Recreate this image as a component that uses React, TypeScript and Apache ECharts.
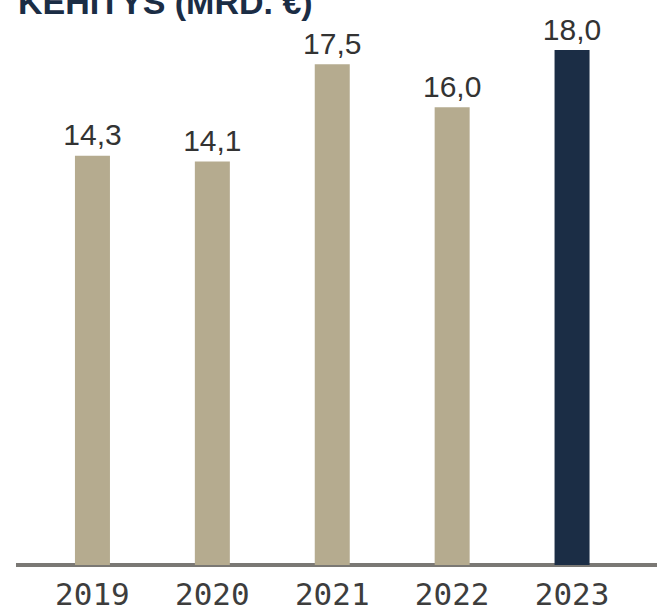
import React, { useEffect, useRef } from "react";
import * as echarts from "echarts";

const years = ["2019", "2020", "2021", "2022", "2023"];
const values = [14.3, 14.1, 17.5, 16.0, 18.0];
const barColors = ["#b5ab8f", "#b5ab8f", "#b5ab8f", "#b5ab8f", "#1b2d45"];
const title = "KEHITYS (MRD. €)";

export default function App() {
  const ref = useRef<HTMLDivElement>(null);
  useEffect(() => {
    document.body.style.margin = "0";
    const chart = echarts.init(ref.current!, null, { renderer: "svg" });
    chart.setOption({
      animation: false,
      title: {
        text: title,
        left: 13,
        top: -20,
        textStyle: {
          fontFamily: "Liberation Sans",
          fontWeight: "bold",
          fontSize: 34,
          color: "#1b2d45",
        },
      },
      grid: { left: 32.5, right: 25, top: 50, bottom: 47 },
      xAxis: {
        type: "category",
        data: years,
        axisLine: { show: false },
        axisTick: { show: false },
        axisLabel: {
          fontFamily: "DejaVu Sans Mono",
          fontSize: 31,
          color: "#3d3d3d",
          margin: 13,
        },
      },
      yAxis: {
        type: "value",
        min: 0,
        max: 18,
        show: false,
        splitLine: { show: false },
      },
      graphic: [
        {
          type: "rect",
          shape: { x: 16, y: 563, width: 641, height: 4 },
          style: { fill: "#7a7874" },
          z: 0,
        },
      ],
      series: [
        {
          type: "bar",
          z: 5,
          barWidth: 35,
          data: values.map((v, i) => ({ value: v, itemStyle: { color: barColors[i] } })),
          label: {
            show: true,
            position: "top",
            distance: 6,
            fontFamily: "Liberation Sans",
            fontSize: 30,
            color: "#333333",
            formatter: (p: any) => p.value.toFixed(1).replace(".", ","),
          },
        },
      ],
    });
    return () => chart.dispose();
  }, []);
  return <div ref={ref} style={{ width: 657, height: 612 }} />;
}
